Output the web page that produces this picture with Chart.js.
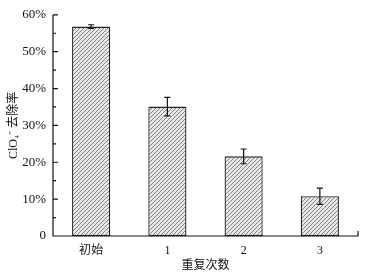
<!DOCTYPE html>
<html><head><meta charset="utf-8">
<script src="https://cdn.jsdelivr.net/npm/chart.js@4/dist/chart.umd.min.js"></script>
<style>html,body{margin:0;padding:0;background:#fff}#wrap{width:383px;height:279px}</style>
</head><body><div id="wrap"><canvas id="c" width="383" height="279"></canvas></div>
<script>
const categories = ['初始', '1', '2', '3'];
const removalRate = [56.8, 35.1, 21.6, 10.8];
const errorValues = [0.5, 2.5, 2.0, 2.2];
const yTicks = [0, 10, 20, 30, 40, 50, 60];

function hatch() {
  const s = 4;
  const p = document.createElement('canvas');
  p.width = s; p.height = s;
  const g = p.getContext('2d');
  g.fillStyle = '#e8e8e8'; g.fillRect(0, 0, s, s);
  g.strokeStyle = '#858585'; g.lineWidth = 1;
  g.beginPath();
  g.moveTo(0, s); g.lineTo(s, 0);
  g.moveTo(-1, 1); g.lineTo(1, -1);
  g.moveTo(s - 1, s + 1); g.lineTo(s + 1, s - 1);
  g.stroke();
  return document.getElementById('c').getContext('2d').createPattern(p, 'repeat');
}

const errorBars = {
  id: 'errorBars',
  afterDatasetsDraw(chart) {
    const ctx = chart.ctx, y = chart.scales.y;
    const meta = chart.getDatasetMeta(0);
    ctx.save();
    ctx.strokeStyle = '#111'; ctx.lineWidth = 1.2;
    meta.data.forEach((bar, i) => {
      const v = removalRate[i], e = errorValues[i];
      const x = bar.x, yt = y.getPixelForValue(v + e), yb = y.getPixelForValue(v - e);
      ctx.beginPath();
      ctx.moveTo(x, yt); ctx.lineTo(x, yb);
      ctx.moveTo(x - 3, yt); ctx.lineTo(x + 3, yt);
      ctx.moveTo(x - 3, yb); ctx.lineTo(x + 3, yb);
      ctx.stroke();
    });
    ctx.restore();
  }
};

const axesDeco = {
  id: 'axesDeco',
  afterDraw(chart) {
    const ctx = chart.ctx, a = chart.chartArea, y = chart.scales.y;
    ctx.save();
    ctx.strokeStyle = '#111'; ctx.lineWidth = 1.2;
    ctx.beginPath();
    ctx.moveTo(a.left, a.top); ctx.lineTo(a.left, a.bottom);
    ctx.lineTo(a.right, a.bottom); ctx.lineTo(a.right, a.bottom - 5);
    yTicks.forEach(t => {
      const py = y.getPixelForValue(t);
      if (t > 0) { ctx.moveTo(a.left, py); ctx.lineTo(a.left + 5, py); }
      if (t < 60) {
        const pm = y.getPixelForValue(t + 5);
        ctx.moveTo(a.left, pm); ctx.lineTo(a.left + 3, pm);
      }
    });
    ctx.stroke();
    ctx.restore();
  }
};

new Chart(document.getElementById('c'), {
  type: 'bar',
  data: {
    labels: categories,
    datasets: [{
      data: removalRate,
      backgroundColor: hatch(),
      borderColor: '#222',
      borderWidth: 1.3,
      borderSkipped: false,
      barPercentage: 0.5,
      categoryPercentage: 1.0
    }]
  },
  options: {
    responsive: false,
    animation: false,
    layout: { padding: { left: 0, right: 25, top: 14, bottom: 0 } },
    plugins: { legend: { display: false }, tooltip: { enabled: false } },
    scales: {
      x: {
        afterFit(s) { s.height = 43; },
        grid: { display: false, drawTicks: false },
        border: { display: false },
        ticks: { color: '#111', font: { family: '"Liberation Serif", "Noto Sans CJK SC"', size: 12 }, padding: 8 },
        title: { display: true, text: '重复次数', color: '#111', font: { family: '"Noto Sans CJK SC"', size: 12 }, padding: { top: 0, bottom: 7 } }
      },
      y: {
        min: 0, max: 60,
        afterFit(s) { s.width = 53; },
        afterBuildTicks(s) { s.ticks = yTicks.map(v => ({ value: v })); },
        grid: { display: false, drawTicks: false },
        border: { display: false },
        ticks: {
          color: '#111', padding: 7,
          font: { family: '"Liberation Serif"', size: 13 },
          callback: v => v === 0 ? '0' : v + '%'
        },
        title: { display: true, text: 'ClO₄⁻ 去除率', color: '#111', font: { family: '"Liberation Serif", "Noto Sans CJK SC"', size: 12 }, padding: { top: 7, bottom: 0 } }
      }
    }
  },
  plugins: [errorBars, axesDeco]
});
</script></body></html>
